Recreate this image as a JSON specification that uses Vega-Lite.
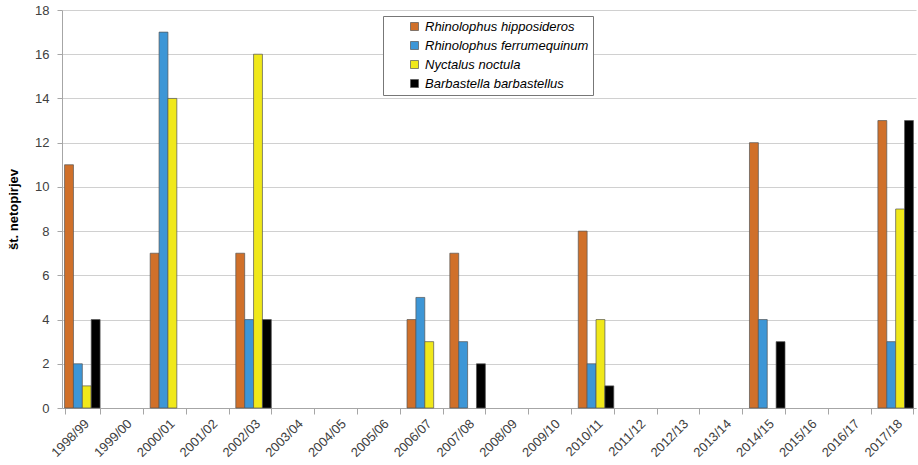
{
  "$schema": "https://vega.github.io/schema/vega-lite/v6.json",
  "width": 854,
  "height": 398,
  "autosize": "none",
  "padding": {"left": 62, "top": 10, "right": 2, "bottom": 57},
  "config": {
    "view": {"stroke": null},
    "font": "Liberation Sans",
    "axis": {"labelFont": "Liberation Sans", "labelFontSize": 13, "labelColor": "#404040", "domainColor": "#a6a6a6", "tickColor": "#a6a6a6", "gridColor": "#d0d0d0"}
  },
  "data": {
    "values": [
      {"season": "1998/99", "species": "Rhinolophus hipposideros", "n": 11},
      {"season": "1998/99", "species": "Rhinolophus ferrumequinum", "n": 2},
      {"season": "1998/99", "species": "Nyctalus noctula", "n": 1},
      {"season": "1998/99", "species": "Barbastella barbastellus", "n": 4},
      {"season": "2000/01", "species": "Rhinolophus hipposideros", "n": 7},
      {"season": "2000/01", "species": "Rhinolophus ferrumequinum", "n": 17},
      {"season": "2000/01", "species": "Nyctalus noctula", "n": 14},
      {"season": "2002/03", "species": "Rhinolophus hipposideros", "n": 7},
      {"season": "2002/03", "species": "Rhinolophus ferrumequinum", "n": 4},
      {"season": "2002/03", "species": "Nyctalus noctula", "n": 16},
      {"season": "2002/03", "species": "Barbastella barbastellus", "n": 4},
      {"season": "2006/07", "species": "Rhinolophus hipposideros", "n": 4},
      {"season": "2006/07", "species": "Rhinolophus ferrumequinum", "n": 5},
      {"season": "2006/07", "species": "Nyctalus noctula", "n": 3},
      {"season": "2007/08", "species": "Rhinolophus hipposideros", "n": 7},
      {"season": "2007/08", "species": "Rhinolophus ferrumequinum", "n": 3},
      {"season": "2007/08", "species": "Barbastella barbastellus", "n": 2},
      {"season": "2010/11", "species": "Rhinolophus hipposideros", "n": 8},
      {"season": "2010/11", "species": "Rhinolophus ferrumequinum", "n": 2},
      {"season": "2010/11", "species": "Nyctalus noctula", "n": 4},
      {"season": "2010/11", "species": "Barbastella barbastellus", "n": 1},
      {"season": "2014/15", "species": "Rhinolophus hipposideros", "n": 12},
      {"season": "2014/15", "species": "Rhinolophus ferrumequinum", "n": 4},
      {"season": "2014/15", "species": "Barbastella barbastellus", "n": 3},
      {"season": "2017/18", "species": "Rhinolophus hipposideros", "n": 13},
      {"season": "2017/18", "species": "Rhinolophus ferrumequinum", "n": 3},
      {"season": "2017/18", "species": "Nyctalus noctula", "n": 9},
      {"season": "2017/18", "species": "Barbastella barbastellus", "n": 13}
    ]
  },
  "mark": {"type": "bar", "stroke": "#555555", "strokeWidth": 0.7},
  "encoding": {
    "x": {
      "field": "season",
      "type": "nominal",
      "title": null,
      "scale": {
        "domain": ["1998/99", "1999/00", "2000/01", "2001/02", "2002/03", "2003/04", "2004/05", "2005/06", "2006/07", "2007/08", "2008/09", "2009/10", "2010/11", "2011/12", "2012/13", "2013/14", "2014/15", "2015/16", "2016/17", "2017/18"],
        "paddingInner": 0.17,
        "paddingOuter": 0.06
      },
      "axis": {"labelAngle": -45, "tickBand": "extent", "tickSize": 6, "labelPadding": 3}
    },
    "xOffset": {
      "field": "species",
      "type": "nominal",
      "scale": {"domain": ["Rhinolophus hipposideros", "Rhinolophus ferrumequinum", "Nyctalus noctula", "Barbastella barbastellus"]}
    },
    "y": {
      "field": "n",
      "type": "quantitative",
      "title": "št. netopirjev",
      "scale": {"domain": [0, 18]},
      "axis": {"values": [0, 2, 4, 6, 8, 10, 12, 14, 16, 18], "tickSize": 5, "labelPadding": 8, "titleFontSize": 13, "titleFontWeight": "bold", "titleColor": "#000000", "titlePadding": 14}
    },
    "color": {
      "field": "species",
      "type": "nominal",
      "scale": {
        "domain": ["Rhinolophus hipposideros", "Rhinolophus ferrumequinum", "Nyctalus noctula", "Barbastella barbastellus"],
        "range": ["#d0702a", "#3d96d6", "#f0e81a", "#000000"]
      },
      "legend": {
        "title": "\u00a0\u00a0\u00a0\u00a0\u00a0\u00a0\u00a0\u00a0\u00a0",
        "titleOrient": "right",
        "titlePadding": 0,
        "titleFontSize": 12,
        "orient": "none",
        "legendX": 321,
        "legendY": 6,
        "strokeColor": "#777777",
        "fillColor": "#ffffff",
        "padding": 4,
        "symbolOffset": 21,
        "symbolType": "square",
        "symbolSize": 64,
        "symbolStrokeColor": "#555555",
        "symbolStrokeWidth": 0.7,
        "labelFont": "Liberation Sans",
        "labelFontSize": 13,
        "labelFontStyle": "italic",
        "labelColor": "#000000",
        "labelOffset": 4,
        "rowPadding": 5,
        "labelLimit": 300
      }
    }
  }
}
